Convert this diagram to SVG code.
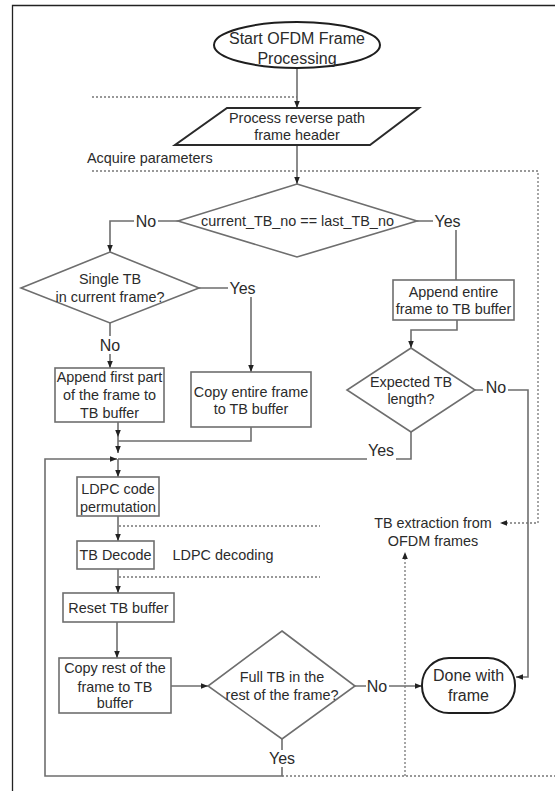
<svg xmlns="http://www.w3.org/2000/svg" width="555" height="791" viewBox="0 0 555 791">
<style>
text{font-family:"Liberation Sans",Arial,sans-serif;font-size:14.4px;fill:#2b2b2b;text-anchor:middle}
.lbl{font-size:16px}
.big{font-size:16px}
.left{text-anchor:start}
.box{fill:#fff;stroke:#6e6e6e;stroke-width:1.6}
.term{fill:#fff;stroke:#1e1e1e;stroke-width:2}
.io{fill:#fff;stroke:#2a2a2a;stroke-width:2}
.conn{fill:none;stroke:#6e6e6e;stroke-width:1.6}
.dot{fill:none;stroke:#777;stroke-width:1.3;stroke-dasharray:2 2}
.bg{fill:#fff}
</style>
<defs>
<marker id="ah" viewBox="0 0 10 10" refX="10" refY="5" markerWidth="7" markerHeight="7" markerUnits="userSpaceOnUse" orient="auto"><path d="M0,1 L10,5 L0,9 z" fill="#222"/></marker>
</defs>
<path d="M12.5,791 V5.5 H555" fill="none" stroke="#222" stroke-width="1.3"/>

<g id="connectors">
<path class="dot" d="M92,97 H297"/>
<path class="dot" d="M92,171 H538 V523 H500" marker-end="url(#ah)"/>
<path class="dot" d="M119,526 H320"/>
<path class="dot" d="M119,577 H320"/>
<path class="dot" d="M405,776 V552" marker-end="url(#ah)"/>
<path class="dot" d="M282,776 H555"/>
<path class="conn" d="M297,68 V108" marker-end="url(#ah)"/>
<path class="conn" d="M297,145 V184" marker-end="url(#ah)"/>
<path class="conn" d="M178,221 H110 V252" marker-end="url(#ah)"/>
<path class="conn" d="M417,221 H456 V280"/>
<path class="conn" d="M457,320 V330 H411 V348" marker-end="url(#ah)"/>
<path class="conn" d="M475,390 H528 V677 H516" marker-end="url(#ah)"/>
<path class="conn" d="M411,432 V459 H118"/>
<path class="conn" d="M110,323 V368" marker-end="url(#ah)"/>
<path class="conn" d="M199,288 H251 V372" marker-end="url(#ah)"/>
<path class="conn" d="M118,422 V437" marker-end="url(#ah)"/>
<path class="conn" d="M251,427 V441 H118"/>
<path class="conn" d="M118,437 V453" marker-end="url(#ah)"/>
<path class="conn" d="M118,459 V477" marker-end="url(#ah)"/>
<path class="conn" d="M282,739 V776 H45 V459 H117" marker-end="url(#ah)"/>
<path class="conn" d="M118,516 V541" marker-end="url(#ah)"/>
<path class="conn" d="M118,569 V593" marker-end="url(#ah)"/>
<path class="conn" d="M117,622 V658" marker-end="url(#ah)"/>
<path class="conn" d="M171,686 H208" marker-end="url(#ah)"/>
<path class="conn" d="M355,686 H422" marker-end="url(#ah)"/>
<rect class="bg" x="134" y="213" width="24" height="17"/><text class="lbl" x="146" y="227">No</text>
<rect class="bg" x="433" y="213" width="29" height="17"/><text class="lbl" x="447.5" y="227">Yes</text>
<rect class="bg" x="483" y="380" width="25" height="16"/><text class="lbl" x="496" y="393">No</text>
<rect class="bg" x="367" y="442" width="29" height="19"/><text class="lbl" x="381" y="456">Yes</text>
<rect class="bg" x="98" y="336" width="24" height="18"/><text class="lbl" x="110" y="351">No</text>
<rect class="bg" x="228" y="280" width="29" height="17"/><text class="lbl" x="242.5" y="294">Yes</text>
<rect class="bg" x="366" y="678" width="23" height="17"/><text class="lbl" x="377" y="692">No</text>
<rect class="bg" x="268" y="750" width="29" height="17"/><text class="lbl" x="282" y="764">Yes</text>
</g>

<g id="start">
<ellipse class="term" cx="297" cy="45" rx="83" ry="23"/>
<text class="big" x="297" y="44">Start OFDM Frame</text>
<text class="big" x="297" y="64">Processing</text>
</g>
<g id="header">
<polygon class="io" points="227,108 419,108 370,145 175,145"/>
<text x="297" y="123">Process reverse path</text>
<text x="297" y="140">frame header</text>
</g>
<g id="acquire"><text class="left" x="87" y="163">Acquire parameters</text></g>
<g id="d_tbno">
<polygon class="box" points="297,184 417,221 297,257 178,221"/>
<text x="297.5" y="226">current_TB_no == last_TB_no</text>
</g>
<g id="append_entire">
<rect class="box" x="393" y="280" width="121" height="40"/>
<text x="453.5" y="297">Append entire</text>
<text x="453.5" y="314">frame to TB buffer</text>
</g>
<g id="d_expected">
<polygon class="box" points="411,348 475,390 411,432 347,390"/>
<text x="411" y="387">Expected TB</text>
<text x="411" y="404">length?</text>
</g>
<g id="d_single">
<polygon class="box" points="110,252 199,288 110,323 21,288"/>
<text x="110" y="284">Single TB</text>
<text x="110" y="302">in current frame?</text>
</g>
<g id="append_first">
<rect class="box" x="55" y="368" width="109" height="54"/>
<text x="109.5" y="382">Append first part</text>
<text x="109.5" y="400">of the frame to</text>
<text x="109.5" y="418">TB buffer</text>
</g>
<g id="copy_entire">
<rect class="box" x="191" y="372" width="120" height="55"/>
<text x="251" y="397">Copy entire frame</text>
<text x="251" y="414">to TB buffer</text>
</g>
<g id="ldpc_perm">
<rect class="box" x="77" y="477" width="82" height="39"/>
<text x="118" y="494">LDPC code</text>
<text x="118" y="512">permutation</text>
</g>
<g id="tb_decode">
<rect class="box" x="77" y="541" width="77" height="28"/>
<text x="115.5" y="560">TB Decode</text>
</g>
<g id="ldpc_decoding"><text x="223" y="560">LDPC decoding</text></g>
<g id="reset">
<rect class="box" x="63" y="593" width="111" height="29"/>
<text x="118.5" y="613">Reset TB buffer</text>
</g>
<g id="copy_rest">
<rect class="box" x="59" y="658" width="112" height="55"/>
<text x="115" y="673">Copy rest of the</text>
<text x="115" y="692">frame to TB</text>
<text x="115" y="708">buffer</text>
</g>
<g id="d_full">
<polygon class="box" points="282,631 355,686 282,739 208,686"/>
<text x="282" y="682">Full TB in the</text>
<text x="282" y="700">rest of the frame?</text>
</g>
<g id="done">
<rect class="term" x="422" y="658" width="93" height="55" rx="27" ry="27"/>
<text class="big" x="468.5" y="681">Done with</text>
<text class="big" x="468.5" y="701">frame</text>
</g>
<g id="tb_extraction">
<text x="433" y="528">TB extraction from</text>
<text x="433" y="546">OFDM frames</text>
</g>
</svg>
